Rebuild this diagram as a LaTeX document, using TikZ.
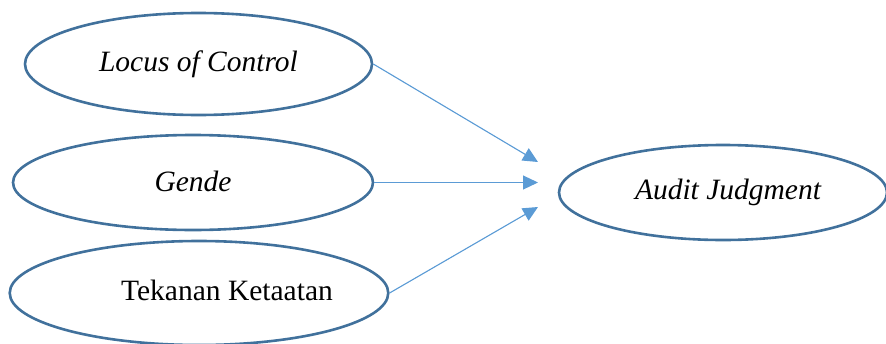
\documentclass[tikz,border=0pt]{standalone}
\usepackage{fontspec}
\setmainfont{Liberation Serif}
\usetikzlibrary{positioning,shapes.geometric,arrows.meta}

\definecolor{ovalblue}{RGB}{65,113,156}
\definecolor{arrowblue}{RGB}{91,155,213}

\begin{document}
\begin{tikzpicture}[x=1pt,y=-1pt,>={Triangle[length=15pt,width=14pt]},
  var node/.style={ellipse,draw=ovalblue,line width=2.6pt,inner sep=0pt,font=\fontsize{29.5}{34}\selectfont},
  link/.style={->,draw=arrowblue,fill=arrowblue,line width=1.1pt}]
  \useasboundingbox (0,0) rectangle (886,343);
  \node[var node,minimum width=347pt,minimum height=102pt] (locus) at (198.5,64) {\raisebox{4pt}{\itshape Locus of Control}};
  \node[var node,minimum width=360pt,minimum height=95pt] (gender) at (193,182.5) {\raisebox{2pt}{\itshape Gende}};
  \node[var node,minimum width=372pt,minimum height=104pt] (tekanan) at (199,293) {\raisebox{6pt}{\hspace*{56pt}Tekanan Ketaatan}};
  \node[var node,minimum width=328pt,minimum height=95pt] (audit) at (723,192.5) {\hspace*{10pt}\itshape Audit Judgment};
  % free ends of the arrows, short of the target oval
  \coordinate (in1) at (538,162);
  \coordinate (in2) at (538,182.5);
  \coordinate (in3) at (538,207);
  \path (locus.east) edge[link] (in1);
  \path (gender.east) edge[link] (in2);
  \path (tekanan.east) edge[link] (in3);
\end{tikzpicture}
\end{document}
